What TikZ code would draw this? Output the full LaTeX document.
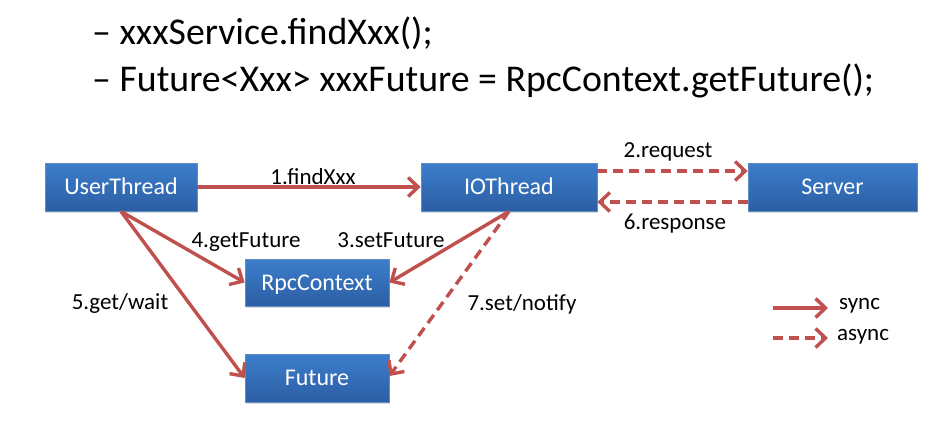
\documentclass[tikz,border=0pt]{standalone}
\usepackage{fontspec}
\setmainfont{Carlito}
\usetikzlibrary{arrows.meta,shadows}
\definecolor{arrred}{HTML}{C0504D}
\definecolor{boxtop}{RGB}{60,126,203}
\definecolor{boxbot}{RGB}{44,94,164}
\definecolor{boxline}{RGB}{95,140,195}
\tikzset{
  blockbox/.style={rectangle, draw=boxline, line width=0.8pt,
    top color=boxtop, bottom color=boxbot, text=white,
    font=\fontsize{24}{28}\selectfont, inner sep=0pt,
    text height=15.5pt, text depth=0pt,
    drop shadow={shadow xshift=1pt, shadow yshift=-2pt, opacity=0.25}},
  syncarrow/.style={draw=arrred, line width=3.4pt,
    -{Straight Barb[length=10pt,width=19pt]}},
  asyncarrow/.style={syncarrow, dash pattern=on 10pt off 6pt},
  lbl/.style={font=\fontsize{23}{27}\selectfont, anchor=base, inner sep=0pt},
  toptext/.style={font=\fontsize{37.8}{45}\selectfont, anchor=base west, inner sep=0pt}
}
\begin{document}
\begin{tikzpicture}[x=1pt,y=-1pt]
\useasboundingbox[fill=white] (0,0) rectangle (943,444);
\node[toptext] (l1) at (92,45) {– xxxService.findXxx();};
\node[toptext] (l2) at (92,92) {– Future<Xxx> xxxFuture = RpcContext.getFuture();};

\node[blockbox, minimum width=152pt, minimum height=48pt] (ut) at (121,187) {UserThread};
\node[blockbox, minimum width=176pt, minimum height=48pt] (io) at (509,187) {IOThread};
\node[blockbox, minimum width=169pt, minimum height=48pt] (sv) at (832.5,187) {Server};
\node[blockbox, minimum width=144pt, minimum height=47pt] (rc) at (317,282.5) {RpcContext};
\node[blockbox, minimum width=144pt, minimum height=48pt] (fu) at (317,378) {Future};

\draw[syncarrow] (ut.east) -- (io.west);
\draw[asyncarrow] ([yshift=16pt]io.east) -- ([yshift=16pt]sv.west);
\draw[asyncarrow] ([yshift=-15pt]sv.west) -- ([yshift=-15pt]io.east);
\draw[syncarrow] (ut.south) -- (rc.west);
\draw[syncarrow] (io.south) -- (rc.east);
\draw[syncarrow] (ut.south) -- (fu.west);
\draw[asyncarrow] (io.south) -- ([yshift=2pt]fu.east);

\node[lbl] (t1) at (313,184) {1.findXxx};
\node[lbl] (t2) at (668,157) {2.request};
\node[lbl] (t6) at (675,229) {6.response};
\node[lbl] (t4) at (246,247) {4.getFuture};
\node[lbl] (t3) at (391,247) {3.setFuture};
\node[lbl] (t5) at (120,309) {5.get/wait};
\node[lbl] (t7) at (522,310) {7.set/notify};

\coordinate (s1) at (773,308);
\coordinate (s2) at (828,308);
\coordinate (a1) at (773,338);
\coordinate (a2) at (828,338);
\draw[syncarrow] (s1) -- (s2);
\draw[asyncarrow] (a1) -- (a2);
\node[lbl, anchor=base west] (ls) at (839,309) {sync};
\node[lbl, anchor=base west] (la) at (837,340) {async};
\end{tikzpicture}
\end{document}
